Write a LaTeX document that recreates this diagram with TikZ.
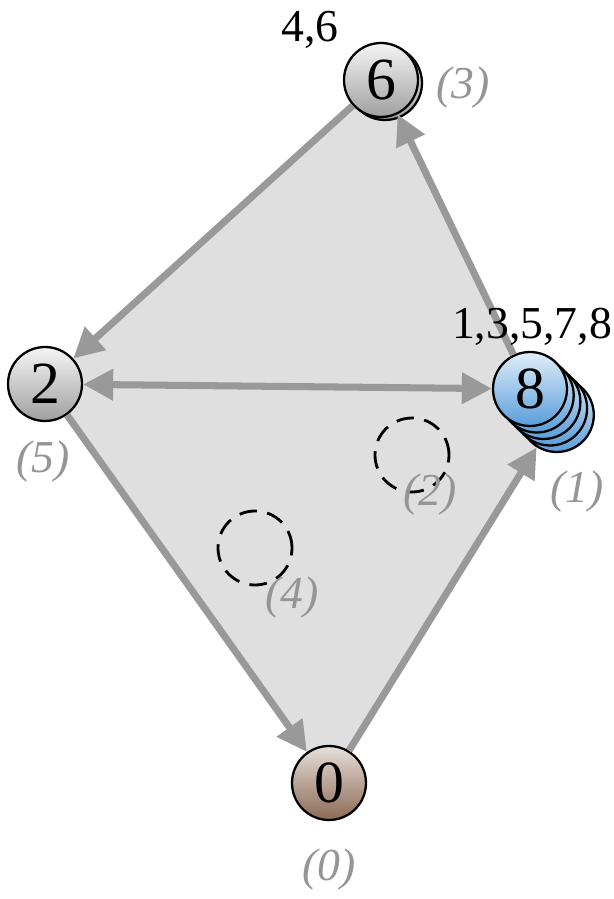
\documentclass[tikz,border=0pt]{standalone}
\usepackage{fontspec}
\setmainfont{Liberation Serif}
\usetikzlibrary{arrows.meta}
\definecolor{edgegrey}{HTML}{999999}
\definecolor{areagrey}{HTML}{DFDFDF}
\definecolor{labelgrey}{HTML}{959595}
\begin{document}
\begin{tikzpicture}[
  >={Triangle[length=0.6cm,width=0.6cm]},
  coin/.style={circle, draw=black, line width=1.3pt, minimum size=1.48cm, inner sep=0pt,
    font=\rmfamily\fontsize{34}{34}\selectfont, shading=axis, shading angle=45},
  greycoin/.style={coin, top color=white!92!gray, bottom color=gray!75},
  bluecoin/.style={coin, top color={rgb,255:red,225;green,238;blue,249}, bottom color={rgb,255:red,90;green,158;blue,218}},
  browncoin/.style={coin, top color={rgb,255:red,230;green,223;blue,217}, bottom color={rgb,255:red,140;green,106;blue,84}},
  hole/.style={circle, draw=black, dash pattern=on 10pt off 6pt, line width=1.6pt, minimum size=1.48cm},
  edge/.style={draw=edgegrey, line width=4pt},
  tag/.style={font=\rmfamily\fontsize{26}{26}\selectfont},
  step tag/.style={font=\rmfamily\fontsize{26}{26}\selectfont\itshape, text=labelgrey}
]
  \useasboundingbox (0,0) rectangle (12.28,17.98);
  % corners of the shaded area
  \coordinate (p6) at (7.62,16.38);
  \coordinate (p8) at (10.60,10.20);
  \coordinate (p8s) at (11.14,9.68);
  \coordinate (p0) at (6.58,2.32);
  \coordinate (p2) at (0.90,10.30);
  \fill[areagrey] (p6) -- (p8) -- (p8s) -- (p0) -- (p2) -- cycle;

  % empty places
  \node[hole] (d2) at (8.24,8.88) {};
  \node[hole] (d4) at (5.10,7.02) {};

  % coins
  \node[greycoin] (v6b) at (7.70,16.32) {};
  \node[greycoin] (v6) at (p6) {6};
  \node[greycoin] (v2) at (p2) {2};
  \node[browncoin] (v0) at (p0) {0};
  \foreach \k in {4,3,2,1}
    \node[bluecoin] (v8s\k) at (10.60+0.134*\k,10.20-0.13*\k) {};
  \node[bluecoin] (v8) at (p8) {8};

  % moves
  \draw[edge,->] (v6) -- (v2);
  \draw[edge,<->] (v2) -- (v8);
  \draw[edge,->] (v2) -- (v0);
  \draw[edge,->] (v0) -- (v8s4);
  \draw[edge,->] (v8) -- (v6);

  % texts
  \node[tag] (t6) at (6.20,17.38) {4,6};
  \node[tag] (t8) at (10.64,11.44) {1,3,5,7,8};
  \node[step tag] (s3) at (9.26,16.22) {(3)};
  \node[step tag] (s1) at (11.54,8.14) {(1)};
  \node[step tag] (s2) at (8.60,8.08) {(2)};
  \node[step tag] (s4) at (5.84,6.02) {(4)};
  \node[step tag] (s5) at (0.86,8.74) {(5)};
  \node[step tag] (s0) at (6.58,0.58) {(0)};
\end{tikzpicture}
\end{document}
